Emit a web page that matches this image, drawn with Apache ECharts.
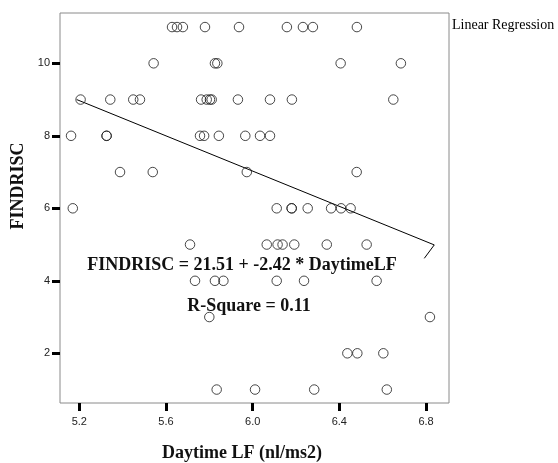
<!DOCTYPE html>
<html>
<head>
<meta charset="utf-8">
<script src="https://cdn.jsdelivr.net/npm/echarts@6/dist/echarts.min.js"></script>
<style>html,body{margin:0;padding:0;background:#fff;}#c{width:558px;height:463px;}</style>
</head>
<body>
<div id="c"></div>
<script>
// Daytime LF (x) and FINDRISC (y) for each observation
var daytimeLF = [
  5.628, 5.651, 5.678, 5.780, 5.937, 6.158, 6.232, 6.278, 6.481,
  5.543, 5.826, 5.837, 6.406, 6.684,
  5.206, 5.343, 5.449, 5.480, 5.762, 5.788, 5.803, 5.811, 5.932, 6.080, 6.181, 6.649,
  5.162, 5.326, 5.326, 5.757, 5.776, 5.844, 5.966, 6.034, 6.080,
  5.388, 5.539, 5.973, 6.480,
  5.170, 6.111, 6.180, 6.180, 6.254, 6.362, 6.408, 6.452,
  5.711, 6.065, 6.115, 6.138, 6.192, 6.342, 6.526,
  5.734, 5.826, 5.865, 6.111, 6.237, 6.572,
  5.800, 6.818,
  6.437, 6.483, 6.603,
  5.834, 6.011, 6.284, 6.619
];
var findrisc = [
  11, 11, 11, 11, 11, 11, 11, 11, 11,
  10, 10, 10, 10, 10,
  9, 9, 9, 9, 9, 9, 9, 9, 9, 9, 9, 9,
  8, 8, 8, 8, 8, 8, 8, 8, 8,
  7, 7, 7, 7,
  6, 6, 6, 6, 6, 6, 6, 6,
  5, 5, 5, 5, 5, 5, 5,
  4, 4, 4, 4, 4, 4,
  3, 3,
  2, 2, 2,
  1, 1, 1, 1
];
// Fit line as drawn (x, y), including the small hook at the end
var fitX = [5.188, 6.838, 6.792];
var fitY = [9.00, 4.99, 4.62];
var xTicks = [5.2, 5.6, 6.0, 6.4, 6.8];
var yTicks = [2, 4, 6, 8, 10];

var scatterData = daytimeLF.map(function (x, i) { return [x, findrisc[i]]; });
var fitData = fitX.map(function (x, i) { return [x, fitY[i]]; });

var serif = '"Liberation Serif", "Times New Roman", serif';
var chart = echarts.init(document.getElementById('c'), null, {renderer: 'canvas'});
chart.setOption({
  animation: false,
  backgroundColor: '#ffffff',
  grid: {left: 60, top: 13, right: 109, bottom: 60, show: true, borderColor: '#8a8a8a', borderWidth: 1, backgroundColor: 'transparent'},
  xAxis: {
    type: 'value', min: 5.111, max: 6.906,
    axisLine: {show: false},
    splitLine: {show: false},
    axisTick: {show: true, length: 8, customValues: xTicks, lineStyle: {color: '#000', width: 3}},
    axisLabel: {customValues: xTicks, margin: 13, color: '#222', fontSize: 11, fontFamily: 'Liberation Sans, Arial, sans-serif',
      formatter: function (v) { return v.toFixed(1); }}
  },
  yAxis: {
    type: 'value', min: 0.629, max: 11.388,
    axisLine: {show: false},
    splitLine: {show: false},
    axisTick: {show: true, length: 8, customValues: yTicks, lineStyle: {color: '#000', width: 3}},
    axisLabel: {customValues: yTicks, margin: 10, color: '#222', fontSize: 11, fontFamily: 'Liberation Sans, Arial, sans-serif'}
  },
  series: [
    {
      type: 'scatter', data: scatterData, symbol: 'circle', symbolSize: 9.5,
      itemStyle: {color: 'rgba(255,255,255,0)', borderColor: '#1a1a1a', borderWidth: 1},
      z: 3
    },
    {
      type: 'line', data: fitData, showSymbol: false, symbol: 'none',
      lineStyle: {color: '#000', width: 1}, z: 2
    }
  ],
  graphic: [
    {type: 'text', x: 452, y: 25, style: {text: 'Linear Regression', font: '14px ' + serif, fill: '#000', align: 'left', verticalAlign: 'middle'}},
    {type: 'text', x: 242, y: 265, style: {text: 'FINDRISC = 21.51 + -2.42 * DaytimeLF', font: 'bold 18px ' + serif, fill: '#111', align: 'center', verticalAlign: 'middle'}},
    {type: 'text', x: 249, y: 306, style: {text: 'R-Square = 0.11', font: 'bold 18px ' + serif, fill: '#111', align: 'center', verticalAlign: 'middle'}},
    {type: 'text', x: 242, y: 453, style: {text: 'Daytime LF (nl/ms2)', font: 'bold 18px ' + serif, fill: '#111', align: 'center', verticalAlign: 'middle'}},
    {type: 'text', x: 18.5, y: 186, rotation: Math.PI / 2, style: {text: 'FINDRISC', font: 'bold 18px ' + serif, fill: '#111', align: 'center', verticalAlign: 'middle'}}
  ]
});
</script>
</body>
</html>
